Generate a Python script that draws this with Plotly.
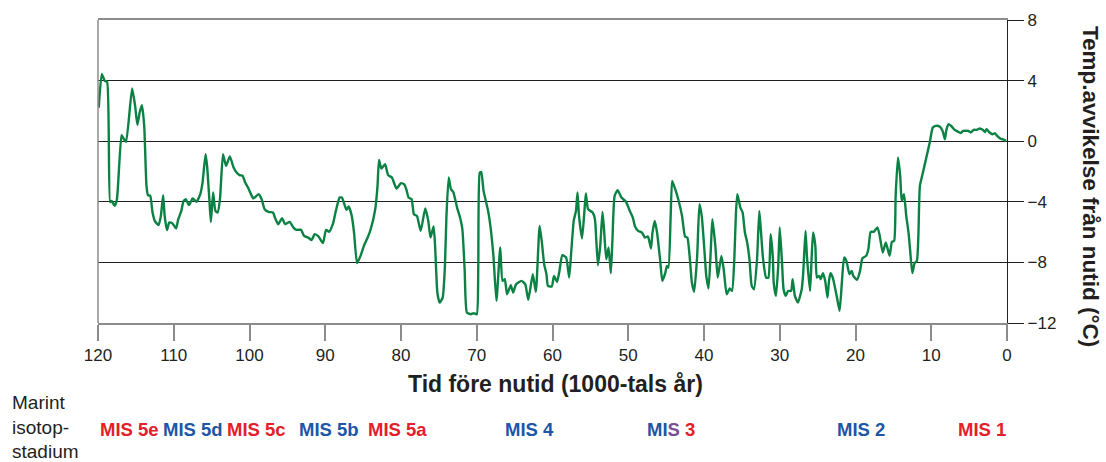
import plotly.graph_objects as go

# Temperature deviation from present (°C) over the last glacial cycle,
# age in thousands of years before present.
AGE_KYR = [
    119.9, 119.5, 119.1, 118.8, 118.4, 118.2, 117.8, 117.5, 116.9, 116.7,
    116.3, 115.5, 115.1, 114.8, 114.5, 114.2, 113.9, 113.6, 113.4, 113.1,
    112.8, 112.5, 112.0, 111.7, 111.4, 111.2, 110.9, 110.6, 110.2, 109.7,
    109.4, 109.0, 108.7, 108.4, 108.0, 107.5, 107.0, 106.5, 106.2, 105.8,
    105.6, 105.3, 105.1, 104.8, 104.5, 104.2, 103.9, 103.5, 103.1, 102.6,
    102.1, 101.7, 101.3, 100.9, 100.6, 100.2, 99.7, 99.5, 98.8, 98.4,
    98.0, 97.5, 96.9, 96.6, 96.2, 95.7, 95.3, 94.7, 94.2, 93.8,
    93.2, 92.8, 92.2, 91.8, 91.4, 90.9, 90.3, 89.9, 89.5, 89.0,
    88.6, 88.1, 87.8, 87.2, 86.9, 86.5, 86.2, 85.8, 85.3, 84.9,
    84.4, 84.0, 83.4, 83.1, 82.9, 82.6, 82.1, 81.7, 81.2, 80.6,
    80.0, 79.6, 79.3, 79.0, 78.6, 78.3, 77.9, 77.4, 76.8, 76.4,
    76.1, 75.7, 75.5, 75.2, 74.9, 74.5, 74.2, 74.0, 73.7, 73.4,
    73.1, 72.6, 72.2, 71.9, 71.6, 71.3, 70.8, 70.4, 70.0, 69.8,
    69.6, 69.4, 69.1, 68.5, 68.2, 67.8, 67.4, 66.9, 66.6, 66.3,
    66.0, 65.5, 65.2, 64.8, 64.1, 63.6, 63.2, 62.6, 62.2, 61.7,
    61.4, 61.1, 60.8, 60.6, 60.1, 59.8, 59.4, 59.1, 58.7, 58.2,
    57.8, 57.5, 57.2, 56.9, 56.7, 56.5, 56.1, 55.8, 55.6, 55.3,
    54.7, 54.4, 54.2, 54.0, 53.7, 53.4, 53.2, 52.9, 52.6, 52.3,
    52.1, 51.8, 51.4, 50.9, 50.3, 49.8, 49.4, 49.1, 48.7, 48.2,
    47.8, 47.4, 47.0, 46.8, 46.5, 46.2, 45.8, 45.5, 45.1, 44.9,
    44.7, 44.4, 44.2, 43.8, 43.4, 42.9, 42.5, 42.2, 41.9, 41.6,
    41.3, 40.9, 40.6, 40.3, 40.0, 39.7, 39.4, 39.1, 38.9, 38.5,
    38.2, 38.0, 37.7, 37.4, 37.0, 36.6, 36.3, 36.0, 35.8, 35.6,
    35.2, 34.9, 34.6, 34.3, 34.0, 33.7, 33.4, 33.0, 32.7, 32.5,
    32.2, 31.8, 31.5, 31.2, 30.9, 30.8, 30.5, 30.2, 30.0, 29.7,
    29.5, 29.2, 28.9, 28.5, 28.3, 28.0, 27.6, 27.1, 26.9, 26.6,
    26.4, 26.0, 25.8, 25.6, 25.3, 25.1, 24.8, 24.6, 24.3, 24.0,
    23.7, 23.5, 23.3, 23.0, 22.4, 22.1, 21.8, 21.5, 21.2, 20.8,
    20.5, 20.3, 19.8, 19.4, 19.1, 18.6, 18.3, 18.0, 17.6, 17.1,
    16.8, 16.4, 16.0, 15.5, 15.2, 14.9, 14.7, 14.4, 14.1, 13.9,
    13.6, 13.3, 13.0, 12.8, 12.5, 12.2, 11.9, 11.7, 11.5, 11.1,
    10.7, 10.2, 9.8, 9.4, 8.9, 8.5, 8.2, 8.0, 7.7, 7.3,
    6.9, 6.4, 6.1, 5.8, 5.1, 4.8, 4.4, 4.0, 3.6, 3.2,
    2.9, 2.7, 2.3, 1.9, 1.6, 1.3, 0.9, 0.6, 0.1,
]

TEMP_DEV = [
    2.22, 4.42, 3.98, 3.92, -4.03, -3.94, -4.27, -3.83, 0.40, 0.24,
    -0.04, 3.48, 2.33, 1.08, 1.89, 2.38, 1.01, -2.95, -3.56, -3.61,
    -4.71, -5.26, -5.54, -4.93, -3.56, -4.93, -5.87, -5.37, -5.41, -5.76,
    -5.15, -4.60, -3.94, -3.83, -4.22, -3.78, -4.00, -3.50, -2.73, -0.86,
    -1.63, -3.83, -5.33, -3.39, -4.60, -4.71, -3.83, -0.86, -1.63, -1.01,
    -1.74, -2.07, -2.24, -2.29, -2.69, -3.06, -3.61, -3.78, -3.50, -3.83,
    -4.49, -4.67, -4.71, -5.10, -5.48, -5.08, -5.48, -5.33, -5.70, -5.85,
    -5.85, -6.25, -6.38, -6.53, -6.14, -6.29, -6.73, -5.85, -5.98, -5.48,
    -4.60, -3.72, -3.72, -4.53, -4.31, -4.93, -6.03, -8.05, -7.52, -6.91,
    -6.36, -5.81, -4.49, -2.95, -1.23, -1.80, -1.52, -2.24, -2.40, -3.12,
    -2.77, -2.84, -3.17, -3.72, -3.83, -4.82, -4.93, -5.92, -4.44, -5.26,
    -6.36, -5.63, -6.91, -9.99, -10.65, -10.32, -8.23, -4.93, -2.40, -3.17,
    -3.35, -4.38, -5.04, -5.81, -8.45, -11.31, -11.42, -11.35, -11.42, -8.23,
    -2.07, -2.03, -3.28, -4.60, -5.59, -7.57, -10.54, -7.02, -9.22, -9.11,
    -10.10, -9.50, -9.99, -9.44, -9.22, -9.44, -10.47, -8.78, -9.94, -5.59,
    -6.69, -8.12, -8.78, -9.55, -9.59, -8.89, -9.29, -8.62, -7.52, -7.68,
    -9.00, -7.13, -5.26, -4.60, -3.39, -4.93, -6.42, -4.71, -3.45, -4.49,
    -4.71, -5.15, -6.69, -8.18, -6.91, -4.67, -5.81, -7.79, -7.02, -8.71,
    -6.69, -3.61, -3.23, -3.72, -4.00, -4.60, -5.04, -5.63, -5.92, -6.03,
    -6.36, -6.29, -7.08, -6.03, -5.26, -6.03, -7.79, -9.22, -8.67, -8.23,
    -8.34, -4.93, -2.62, -3.17, -3.83, -4.93, -6.29, -6.36, -7.57, -9.33,
    -9.94, -7.57, -4.16, -4.93, -6.80, -8.89, -9.72, -7.13, -5.15, -6.91,
    -9.00, -8.45, -7.57, -8.45, -10.10, -9.72, -9.88, -7.79, -4.93, -3.50,
    -4.38, -4.71, -6.03, -6.69, -7.79, -9.55, -9.77, -7.79, -4.60, -5.81,
    -7.79, -9.00, -9.00, -6.14, -7.79, -9.33, -10.21, -8.23, -5.70, -8.01,
    -9.77, -10.21, -9.88, -9.88, -9.11, -10.21, -10.65, -9.77, -8.67, -5.92,
    -7.68, -9.88, -7.79, -6.03, -6.91, -9.00, -8.89, -9.11, -8.71, -9.22,
    -10.32, -9.22, -8.71, -9.00, -10.43, -11.20, -9.33, -7.68, -7.90, -8.78,
    -8.56, -8.89, -9.15, -8.56, -7.74, -7.57, -7.13, -5.98, -5.98, -5.70,
    -6.25, -7.35, -6.69, -7.57, -6.65, -6.58, -3.61, -1.08, -2.29, -3.94,
    -3.50, -4.93, -6.03, -7.13, -8.71, -8.05, -7.90, -6.25, -2.95, -2.07,
    -1.19, -0.09, 0.90, 1.01, 0.97, 0.68, 0.13, 0.75, 1.12, 0.97,
    0.75, 0.61, 0.53, 0.68, 0.68, 0.57, 0.75, 0.75, 0.84, 0.75,
    0.61, 0.79, 0.57, 0.46, 0.53, 0.35, 0.18, 0.13, 0.02,
]

X_TICKS = [120, 110, 100, 90, 80, 70, 60, 50, 40, 30, 20, 10, 0]
Y_TICKS = [8, 4, 0, -4, -8, -12]

# Marine isotope stages and the age (kyr) each label is centred on
MIS_STAGES = ["MIS 5e", "MIS 5d", "MIS 5c", "MIS 5b", "MIS 5a",
              "MIS 4", "MIS 3", "MIS 2", "MIS 1"]
MIS_CENTER_KYR = [115.8, 107.4, 99.1, 89.5, 80.5, 63.0, 44.4, 19.3, 3.3]

WARM = "#e3202a"
COLD = "#1d56a6"
INK = "#231f20"
GREEN = "#0b8243"
FONT = "Liberation Sans, Arial, sans-serif"

fig = go.Figure()
fig.add_trace(go.Scatter(
    x=AGE_KYR, y=TEMP_DEV, mode="lines",
    line=dict(color=GREEN, width=2.4, shape="spline", smoothing=0.5),
    hoverinfo="skip", showlegend=False,
))

fig.update_layout(
    width=1106, height=462,
    margin=dict(l=98, r=99, t=20, b=139),
    paper_bgcolor="white", plot_bgcolor="white",
    font=dict(family=FONT, color=INK, size=17),
    showlegend=False,
)

fig.update_xaxes(
    range=[120, 0], tickvals=X_TICKS, ticktext=[str(v) for v in X_TICKS],
    ticks="outside", ticklen=16, tickwidth=1.5, tickcolor="#8c8c8c",
    showline=True, linecolor="#8c8c8c", linewidth=1.5, mirror=True,
    showgrid=False, zeroline=False,
    tickfont=dict(size=17, color=INK, family=FONT),
)
fig.update_yaxes(
    range=[-12, 8], tickvals=Y_TICKS,
    side="right", ticks="outside", ticklen=16, tickwidth=1.3, tickcolor=INK,
    showline=True, linecolor=INK, linewidth=1.3,
    showgrid=True, gridcolor=INK, gridwidth=1.3, zeroline=False,
    tickfont=dict(size=17, color=INK, family=FONT),
)

# grey frame on the left side of the plot
fig.add_shape(type="line", xref="paper", yref="paper", x0=0, x1=0, y0=0, y1=1,
              line=dict(color="#8c8c8c", width=1.5), layer="above")

# axis titles
fig.add_annotation(
    text="<b>Tid före nutid (1000-tals år)</b>",
    xref="paper", yref="paper", x=0.503, y=-0.2,
    xanchor="center", yanchor="middle", showarrow=False,
    font=dict(size=23, color=INK, family=FONT),
)
fig.add_annotation(
    text="<b>Temp.avvikelse från nutid (°C)</b>",
    xref="paper", yref="paper", x=1.092, y=0.45, textangle=90,
    xanchor="center", yanchor="middle", showarrow=False,
    font=dict(size=22.5, color=INK, family=FONT),
)

# stage labels below the axis
fig.add_annotation(
    text="Marint<br>isotop-<br>stadium",
    xref="paper", yref="paper", x=-0.097, y=-0.343,
    xanchor="left", yanchor="middle", align="left", showarrow=False,
    font=dict(size=19, color=INK, family=FONT),
)

for name, age in zip(MIS_STAGES, MIS_CENTER_KYR):
    if name == "MIS 3":
        label = (f"<span style='color:{COLD}'>MI</span>"
                 f"<span style='color:#7a4e96'>S</span>"
                 f"<span style='color:{WARM}'> 3</span>")
        color = WARM
    else:
        stage = name.split()[1]
        warm = stage in ("5e", "5c", "5a", "1") or (stage.isdigit() and int(stage) % 2 == 1)
        color = WARM if warm else COLD
        label = name
    fig.add_annotation(
        text=f"<b>{label}</b>", x=age, xref="x", yref="paper", y=-0.35,
        xanchor="center", yanchor="middle", showarrow=False,
        font=dict(size=18.5, color=color, family=FONT),
    )

fig.write_html("out.html")
